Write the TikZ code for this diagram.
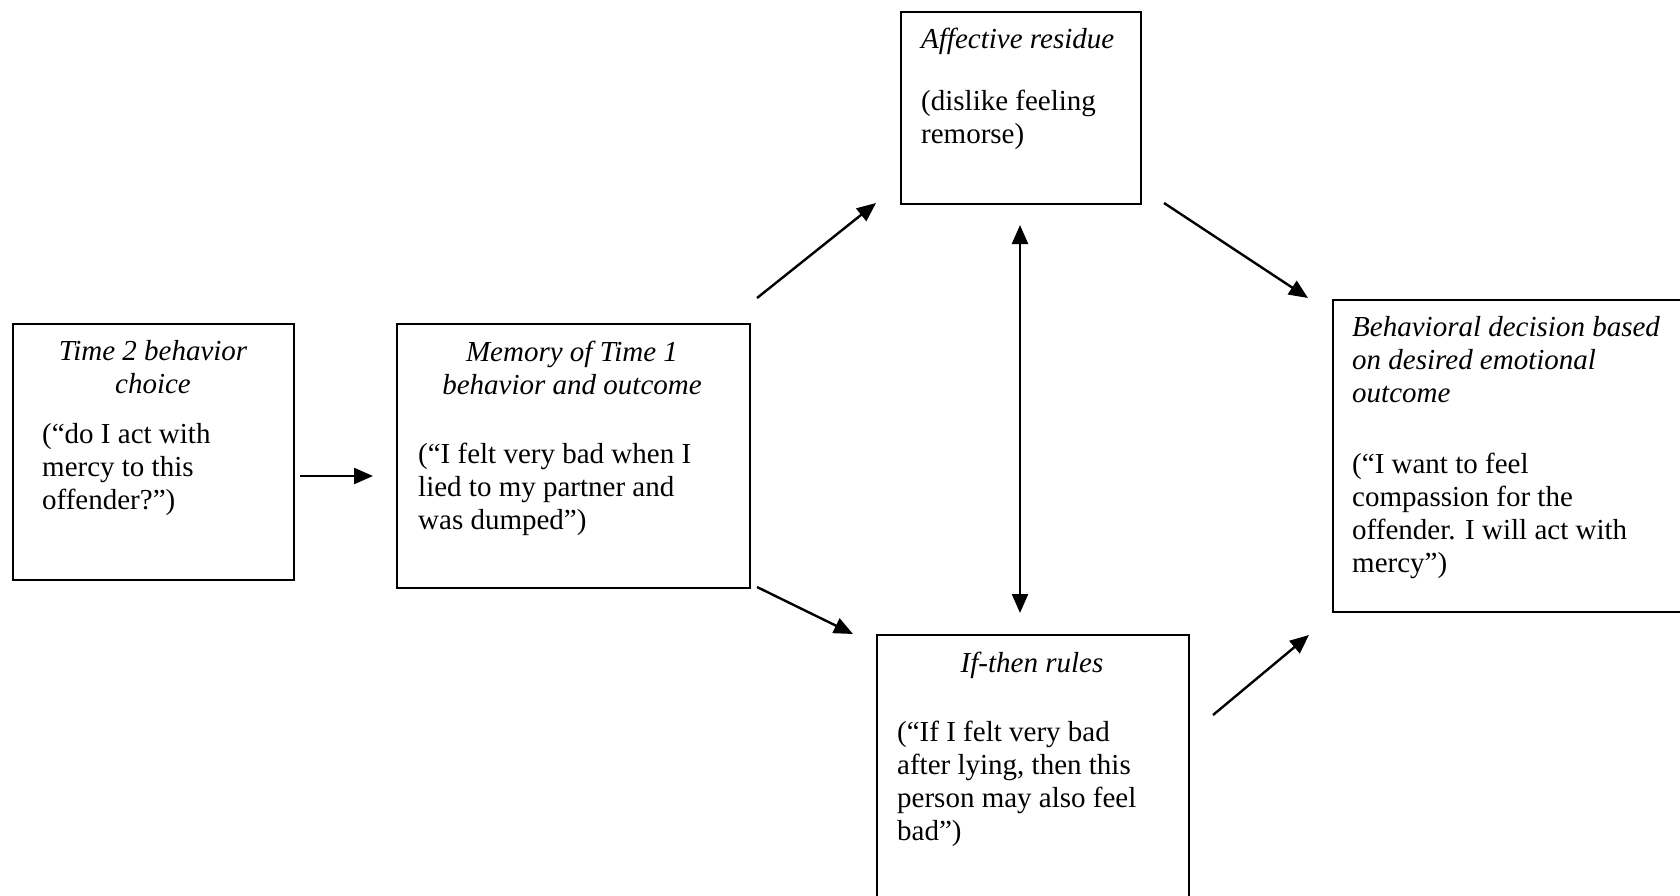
\documentclass[tikz,border=0pt]{standalone}
\usepackage{fontspec}
\setmainfont{Liberation Serif}
\usetikzlibrary{arrows.meta,calc}
\begin{document}
\begin{tikzpicture}[x=1pt,y=-1pt,
  box/.style={draw, line width=2pt, inner sep=0pt, anchor=north west},
  txt/.style={inner sep=0pt, font=\fontsize{29}{33}\selectfont},
  ttl/.style={inner sep=0pt, font=\fontsize{29}{33}\selectfont\itshape},
  conn/.style={line width=2.4pt, -{Triangle[length=19pt,width=16pt]}},
  conntwo/.style={line width=2.4pt, {Triangle[length=19pt,width=16pt]}-{Triangle[length=19pt,width=16pt]}},
]
\clip (0,0) rectangle (1680,895);
\fill[white] (0,0) rectangle (1680,895);

% boxes
\node[box, minimum width=281pt, minimum height=256pt] (t2) at (12,323) {};
\node[box, minimum width=353pt, minimum height=264pt] (mem) at (396,323) {};
\node[box, minimum width=240pt, minimum height=192pt] (aff) at (900,11) {};
\node[box, minimum width=312pt, minimum height=300pt] (ift) at (876,634) {};
\node[box, minimum width=380pt, minimum height=312pt] (beh) at (1332,299) {};

% texts (anchored at the baseline of their last line)
\node[ttl, align=center, anchor=base] (t2title) at (153,393) {Time 2 behavior\\choice};
\node[txt, align=left, anchor=base west] (t2body) at (42,509) {(“do I act with\\mercy to this\\offender?”)};

\node[ttl, align=center, anchor=base] (memtitle) at (572,394) {Memory of Time 1\\behavior and outcome};
\node[txt, align=left, anchor=base west] (membody) at (418,529) {(“I felt very bad when I\\lied to my partner and\\was dumped”)};

\node[ttl, align=left, anchor=base west] (afftitle) at (921,48) {Affective residue};
\node[txt, align=left, anchor=base west] (affbody) at (921,143) {(dislike feeling\\remorse)};

\node[ttl, align=center, anchor=base] (ifttitle) at (1032,672) {If-then rules};
\node[txt, align=left, anchor=base west] (iftbody) at (897,840) {(“If I felt very bad\\after lying, then this\\person may also feel\\bad”)};

\node[ttl, align=left, anchor=base west] (behtitle) at (1352,402) {Behavioral decision based\\on desired emotional\\outcome};
\node[txt, align=left, anchor=base west] (behbody) at (1352,572) {(“I want to feel\\compassion for the\\offender. I will act with\\mercy”)};

% connector end points
\coordinate (a1s) at (300,476);
\coordinate (a1e) at (373,476);
\coordinate (a2s) at (757,298);
\coordinate (a2e) at (876,203);
\coordinate (a3s) at (757,587);
\coordinate (a3e) at (853,634);
\coordinate (a4s) at (1020,225);
\coordinate (a4e) at (1020,613);
\coordinate (a5s) at (1164,203);
\coordinate (a5e) at (1308,298);
\coordinate (a6s) at (1213,715);
\coordinate (a6e) at (1309,635);

\draw[conn] (a1s) -- (a1e);
\draw[conn] (a2s) -- (a2e);
\draw[conn] (a3s) -- (a3e);
\draw[conntwo] (a4s) -- (a4e);
\draw[conn] (a5s) -- (a5e);
\draw[conn] (a6s) -- (a6e);
\end{tikzpicture}
\end{document}
